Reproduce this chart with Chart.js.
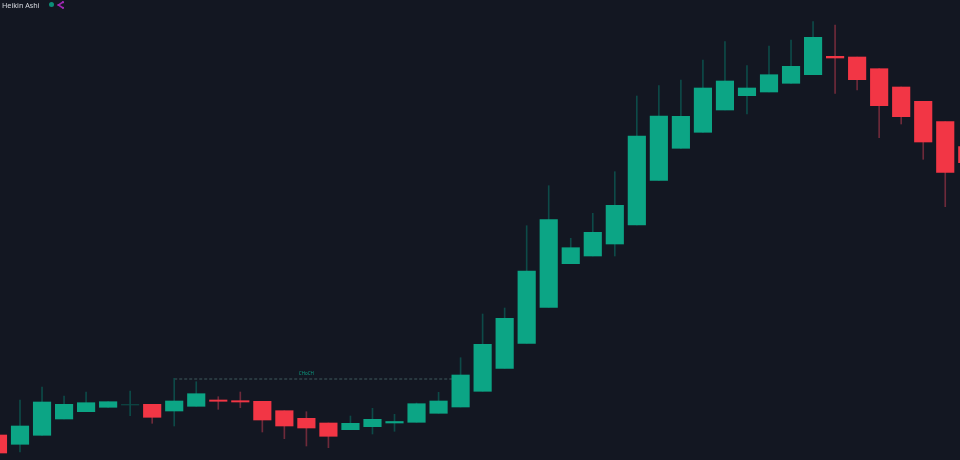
<!DOCTYPE html>
<html>
<head>
<meta charset="utf-8">
<title>Heikin Ashi</title>
<script src="https://cdn.jsdelivr.net/npm/chart.js@4/dist/chart.umd.min.js"></script>
<style>
  html, body { margin: 0; padding: 0; background: #131722; overflow: hidden; }
  #wrap { position: relative; width: 960px; height: 460px; }
  #legend {
    position: absolute; left: 2px; top: 0; height: 9px;
    display: flex; align-items: center;
    font: 7.2px "Noto Sans", sans-serif; color: #d7dae0;
  }
  #legend .dot { width: 5px; height: 5px; border-radius: 50%; background: #0b8f78; margin-left: 9px; }
  #legend svg { margin-left: 3px; }
</style>
</head>
<body>
<div id="wrap">
  <canvas id="candles" width="960" height="460"></canvas>
  <div id="legend">
    <span>Heikin Ashi</span>
    <span class="dot"></span>
    <svg width="7" height="8" viewBox="0 0 7 8"><path d="M6 1 L1.5 4 L6 7" fill="none" stroke="#9c27b0" stroke-width="1.6"/><circle cx="6" cy="1.2" r="1.1" fill="#a32cb8"/><circle cx="6" cy="6.8" r="1.1" fill="#a32cb8"/><circle cx="1.5" cy="4" r="1.1" fill="#a32cb8"/></svg>
  </div>
</div>
<script>
// Heikin Ashi candles, left to right. First and last are cut by the frame.
const bars   = [-1, 0, 1, 2, 3, 4, 5, 6, 7, 8, 9, 10, 11, 12, 13, 14, 15, 16, 17, 18, 19, 20, 21,
                22, 23, 24, 25, 26, 27, 28, 29, 30, 31, 32, 33, 34, 35, 36, 37, 38, 39, 40, 41, 42, 43];
const opens  = [25, 15.7, 24.7, 41, 48.3, 52.7, 55, 55.7, 49, 53.7, 60, 59.3, 58.7, 49.3, 41.7, 37, 30.3, 33.3, 37, 37.7, 46.7, 53, 68.7,
                91.7, 116.7, 152.7, 196.3, 204, 216, 235, 279.7, 311.7, 327.7, 350, 364.3, 368, 376.7, 385.3, 403.7, 403, 391.3, 373, 358.7, 338.3, 313.3];
const closes = [7, 34, 58, 55.7, 57.3, 58.3, 55.5, 42.7, 59, 66.3, 58.7, 58, 40, 34, 32, 23.7, 36.7, 40.7, 38.5, 56.3, 59, 85, 115.7,
                141.7, 189, 240.3, 212.3, 227.7, 254.7, 324, 344, 343.7, 372, 379, 372, 385.3, 393.7, 422.7, 402, 380.3, 354.3, 343.3, 318, 287.7, 297.3];
const highs  = [25, 60, 73, 64, 68, 58.3, 69, 55.7, 81.7, 78.3, 63.3, 68, 58.7, 49.3, 48.3, 37, 44, 51.7, 45.7, 57, 67.7, 102.3, 146,
                152, 234.3, 274.3, 221.7, 246.7, 288.3, 364, 374.3, 380, 400, 418.3, 394.3, 414, 420, 438.3, 435, 403, 391.3, 373, 358.7, 338.3, 313.3];
const lows   = [7, 8, 24.7, 41, 48.3, 52.7, 44.3, 36.7, 34, 53.7, 50.7, 52.3, 28, 21.3, 14, 12.3, 30.3, 26, 28.7, 37.7, 46.7, 53, 68.7,
                91.7, 116.7, 152.7, 196.3, 204, 204, 235, 279.7, 311.7, 327.7, 350, 346, 368, 376.7, 385.3, 366.7, 370, 322.3, 336, 300.7, 253.3, 297.3];

// Swing level marked on the chart
const chochLabel = "CHoCH";
const chochLabelBar = 13;
const chochBars  = [7, 20];
const chochLevel = [81, 81];

const GREEN = "#0ca585";
const RED = "#f23645";
const GREEN_WICK = "#0d4a48";
const RED_WICK = "#6e2a3a";

const isUp = (i) => closes[i] >= opens[i];
const isThin = (i) => isUp(i) && Math.abs(closes[i] - opens[i]) < 1;

// Draws the small label above the dashed level
const chochLabelPlugin = {
  id: "chochLabel",
  afterDatasetsDraw(chart) {
    const { ctx, scales } = chart;
    ctx.save();
    ctx.font = '4.5px "Noto Sans", sans-serif';
    ctx.fillStyle = "#0c9c80";
    ctx.textAlign = "center";
    ctx.textBaseline = "bottom";
    ctx.fillText(
      chochLabel,
      scales.x.getPixelForValue(chochLabelBar),
      scales.y.getPixelForValue(chochLevel[0]) - 3
    );
    ctx.restore();
  },
};

new Chart(document.getElementById("candles"), {
  type: "bar",
  data: {
    datasets: [
      {
        type: "line",
        data: chochBars.map((x, i) => ({ x, y: chochLevel[i] })),
        borderColor: "#3f5a5c",
        borderWidth: 1,
        borderDash: [3, 2],
        pointRadius: 0,
        order: 3,
      },
      {
        label: "wicks",
        data: bars.map((x, i) => ({ x, y: [lows[i], highs[i]] })),
        backgroundColor: bars.map((_, i) => (isUp(i) ? GREEN_WICK : RED_WICK)),
        barThickness: 1,
        grouped: false,
        order: 2,
      },
      {
        label: "bodies",
        data: bars.map((x, i) => ({ x, y: [opens[i], closes[i]] })),
        backgroundColor: bars.map((_, i) => {
          if (isThin(i)) return GREEN_WICK;
          return isUp(i) ? GREEN : RED;
        }),
        barThickness: 17.5,
        grouped: false,
        order: 1,
      },
    ],
  },
  options: {
    responsive: false,
    animation: false,
    layout: { padding: 0 },
    plugins: {
      legend: { display: false },
      title: { display: false },
      tooltip: { enabled: false },
    },
    scales: {
      x: { type: "linear", min: -0.908, max: 42.67, offset: false, display: false },
      y: { type: "linear", min: 0, max: 460, display: false },
    },
  },
  plugins: [chochLabelPlugin],
});
</script>
</body>
</html>
